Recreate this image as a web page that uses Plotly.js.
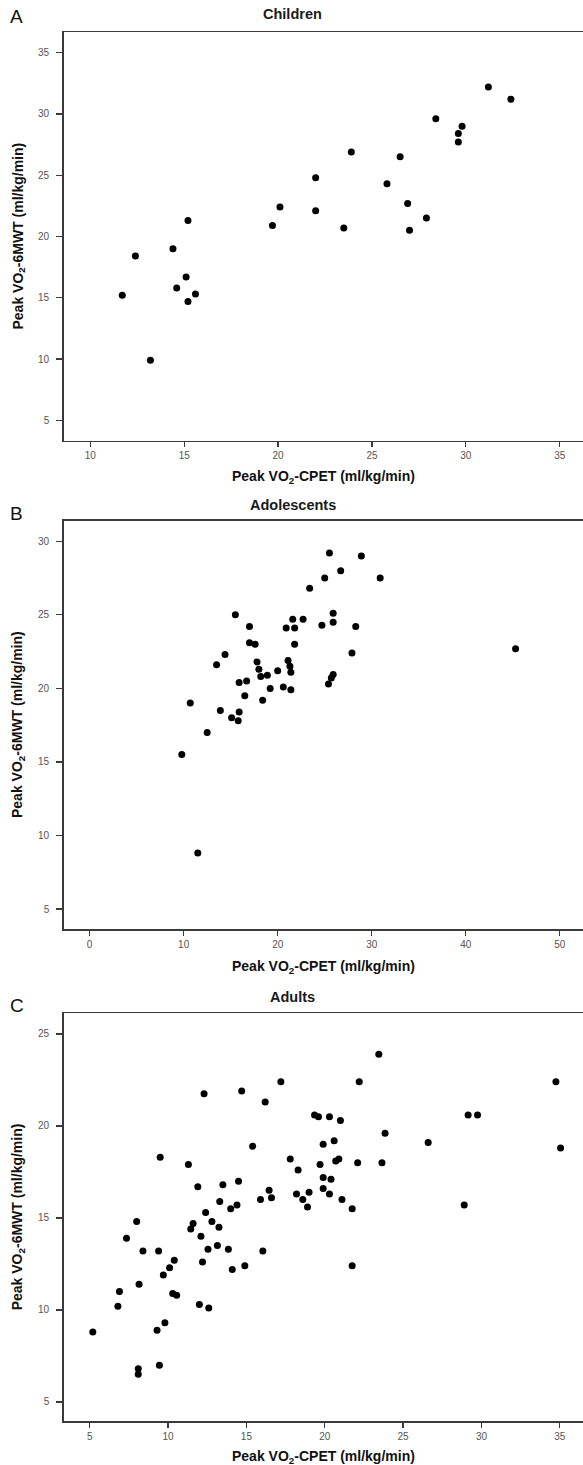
<!DOCTYPE html>
<html>
<head>
<meta charset="utf-8">
<script src="https://cdn.plot.ly/plotly-3.0.1.min.js"></script>
<style>html,body{margin:0;padding:0;background:#fff;}#chart{width:583px;height:1465px;}</style>
</head>
<body>
<div id="chart"></div>
<script>
// ---- Data ----
const panelLetters = ["A", "B", "C"];
const panelTitles = ["Children", "Adolescents", "Adults"];
const xAxisTitle = "Peak VO<sub>2</sub>-CPET (ml/kg/min)";
const yAxisTitle = "Peak VO<sub>2</sub>-6MWT (ml/kg/min)";

const childrenX = [31.2, 32.4, 28.4, 29.8, 29.6, 29.6, 23.9, 26.5, 22.0, 25.8, 26.9, 20.1, 22.0, 27.9, 15.2, 19.7, 23.5, 27.0, 14.4, 12.4, 15.1, 14.6, 11.7, 15.6, 15.2, 13.2];
const childrenY = [32.2, 31.2, 29.6, 29.0, 28.4, 27.7, 26.9, 26.5, 24.8, 24.3, 22.7, 22.4, 22.1, 21.5, 21.3, 20.9, 20.7, 20.5, 19.0, 18.4, 16.7, 15.8, 15.2, 15.3, 14.7, 9.9];

const adolescentsX = [25.5, 28.9, 26.7, 25.0, 30.9, 23.4, 15.5, 25.9, 25.9, 21.6, 22.7, 24.7, 28.3, 17.0, 20.9, 21.8, 17.0, 17.6, 21.8, 14.4, 27.9, 45.3, 13.5, 17.8, 21.1, 21.3, 18.0, 21.4, 20.0, 18.9, 18.2, 25.9, 25.7, 25.4, 16.7, 15.9, 19.2, 20.6, 21.4, 16.5, 10.7, 18.4, 13.9, 15.9, 15.1, 15.8, 12.5, 9.8, 11.5];
const adolescentsY = [29.2, 29.0, 28.0, 27.5, 27.5, 26.8, 25.0, 25.1, 24.5, 24.7, 24.7, 24.3, 24.2, 24.2, 24.1, 24.1, 23.1, 23.0, 23.0, 22.3, 22.4, 22.7, 21.6, 21.8, 21.9, 21.5, 21.3, 21.1, 21.2, 20.9, 20.8, 20.95, 20.7, 20.3, 20.5, 20.4, 20.0, 20.1, 19.9, 19.5, 19.0, 19.2, 18.5, 18.4, 18.0, 17.8, 17.0, 15.5, 8.8];

const adultsX = [23.45, 17.2, 22.2, 34.75, 12.3, 14.7, 16.2, 19.35, 19.6, 20.3, 21.0, 29.15, 29.75, 23.85, 20.6, 19.9, 15.4, 26.6, 35.05, 9.5, 17.8, 20.7, 20.9, 22.1, 23.65, 11.3, 19.7, 18.3, 19.9, 20.4, 14.5, 13.5, 11.9, 19.9, 16.45, 19.0, 18.2, 20.3, 16.6, 15.9, 18.6, 21.1, 13.3, 14.4, 14.0, 18.9, 21.75, 28.9, 12.4, 8.0, 11.6, 12.8, 13.25, 11.45, 12.1, 7.35, 13.15, 12.55, 13.85, 8.4, 9.4, 16.05, 10.4, 12.2, 10.1, 14.9, 14.1, 21.75, 9.7, 8.15, 6.9, 10.3, 10.55, 6.8, 12.0, 12.6, 5.2, 9.8, 9.3, 9.45, 8.1, 8.1];
const adultsY = [23.9, 22.4, 22.4, 22.4, 21.75, 21.9, 21.3, 20.6, 20.5, 20.5, 20.3, 20.6, 20.6, 19.6, 19.2, 19.0, 18.9, 19.1, 18.8, 18.3, 18.2, 18.1, 18.2, 18.0, 18.0, 17.9, 17.9, 17.6, 17.2, 17.1, 17.0, 16.8, 16.7, 16.6, 16.5, 16.4, 16.3, 16.3, 16.1, 16.0, 16.0, 16.0, 15.9, 15.7, 15.5, 15.6, 15.5, 15.7, 15.3, 14.8, 14.7, 14.8, 14.5, 14.4, 14.0, 13.9, 13.5, 13.3, 13.3, 13.2, 13.2, 13.2, 12.7, 12.6, 12.3, 12.4, 12.2, 12.4, 11.9, 11.4, 11.0, 10.9, 10.8, 10.2, 10.3, 10.1, 8.8, 9.3, 8.9, 7.0, 6.8, 6.5];

const xTicksA = [10, 15, 20, 25, 30, 35];
const yTicksA = [5, 10, 15, 20, 25, 30, 35];
const xTicksB = [0, 10, 20, 30, 40, 50];
const yTicksB = [5, 10, 15, 20, 25, 30];
const xTicksC = [5, 10, 15, 20, 25, 30, 35];
const yTicksC = [5, 10, 15, 20, 25];

// ---- Layout helpers (pixel geometry) ----
const W = 583, H = 1465;
const px = v => v / W;
const py = v => 1 - v / H;
const FONT = "Liberation Sans, Arial, sans-serif";

const marker = {color: "#000", size: 7, line: {width: 0}};
const traces = [
  {x: childrenX, y: childrenY, xaxis: "x", yaxis: "y", mode: "markers", type: "scatter", marker: marker, hoverinfo: "none"},
  {x: adolescentsX, y: adolescentsY, xaxis: "x2", yaxis: "y2", mode: "markers", type: "scatter", marker: marker, hoverinfo: "none"},
  {x: adultsX, y: adultsY, xaxis: "x3", yaxis: "y3", mode: "markers", type: "scatter", marker: marker, hoverinfo: "none"}
];

function xAxis(range, ticks, anchor) {
  return {range: range, tickvals: ticks, ticktext: ticks.map(String), domain: [px(63.5), 1], anchor: anchor,
    showgrid: false, zeroline: false, showline: true, linecolor: "#3a3a3a", linewidth: 1.3, mirror: true,
    ticks: "outside", ticklen: 5, tickwidth: 1.3, tickcolor: "#3a3a3a",
    tickfont: {family: FONT, size: 10, color: "#555"}, automargin: false, fixedrange: true};
}
function yAxis(range, ticks, anchor, top, bottom) {
  return {range: range, tickvals: ticks, ticktext: ticks.map(String), domain: [py(bottom), py(top)], anchor: anchor,
    showgrid: false, zeroline: false, showline: true, linecolor: "#3a3a3a", linewidth: 1.3, mirror: false,
    ticks: "outside", ticklen: 6, tickwidth: 1.3, tickcolor: "#3a3a3a", ticklabelstandoff: 5,
    tickfont: {family: FONT, size: 10, color: "#555"}, automargin: false, fixedrange: true};
}

const panels = [
  {top: 32.3, bottom: 440.7, titleY: 14.5, letterY: 17, xTitleY: 476.7},
  {top: 520.7, bottom: 929.3, titleY: 504.5, letterY: 513.5, xTitleY: 966.7},
  {top: 1013.3, bottom: 1421.3, titleY: 997, letterY: 1005, xTitleY: 1456.7}
];

const annotations = [];
panels.forEach((p, i) => {
  annotations.push({text: panelLetters[i], xref: "paper", yref: "paper", x: px(8), y: py(p.letterY),
    xanchor: "left", yanchor: "middle", showarrow: false, font: {family: FONT, size: 19, color: "#111"}});
  annotations.push({text: "<b>" + panelTitles[i] + "</b>", xref: "paper", yref: "paper", x: px(292.5), y: py(p.titleY),
    xanchor: "center", yanchor: "middle", showarrow: false, font: {family: FONT, size: 14.5, color: "#1a1a1a"}});
  annotations.push({text: "<b>" + xAxisTitle + "</b>", xref: "paper", yref: "paper", x: px(323.5), y: py(p.xTitleY),
    xanchor: "center", yanchor: "middle", showarrow: false, font: {family: FONT, size: 14, color: "#111"}});
  annotations.push({text: "<b>" + yAxisTitle + "</b>", xref: "paper", yref: "paper", x: px(18), y: py((p.top + p.bottom) / 2),
    xanchor: "center", yanchor: "middle", textangle: -90, showarrow: false, font: {family: FONT, size: 14, color: "#111"}});
});

const layout = {
  width: W, height: H,
  margin: {l: 0, r: 0, t: 0, b: 0, pad: 0},
  paper_bgcolor: "#fff", plot_bgcolor: "#fff",
  showlegend: false,
  xaxis: xAxis([8.57, 36.24], xTicksA, "y"),
  yaxis: yAxis([3.34, 36.66], yTicksA, "x", panels[0].top, panels[0].bottom),
  xaxis2: xAxis([-2.78, 52.47], xTicksB, "y2"),
  yaxis2: yAxis([3.62, 31.4], yTicksB, "x2", panels[1].top, panels[1].bottom),
  xaxis3: xAxis([3.33, 36.48], xTicksC, "y3"),
  yaxis3: yAxis([3.95, 26.12], yTicksC, "x3", panels[2].top, panels[2].bottom),
  annotations: annotations
};

Plotly.newPlot("chart", traces, layout, {staticPlot: true, displayModeBar: false});
</script>
</body>
</html>
